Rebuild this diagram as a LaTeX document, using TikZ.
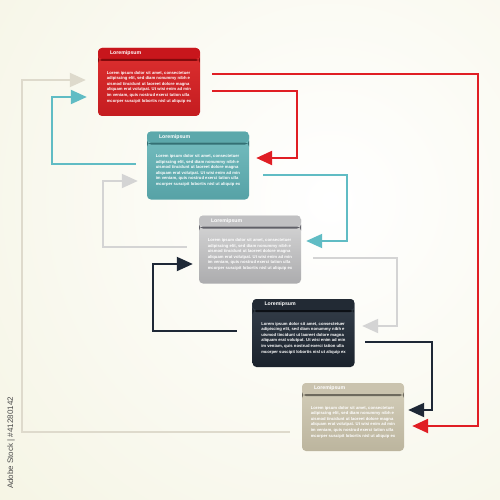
\documentclass[tikz,border=0pt]{standalone}
\usepackage{fontspec}
\setmainfont{Liberation Sans}
\usepackage{xcolor}
\usepackage{tikz}
\usetikzlibrary{arrows.meta, positioning, calc}
\definecolor{cream}{RGB}{240,239,214}
\definecolor{redtop}{RGB}{222,48,48}
\definecolor{redbot}{RGB}{196,28,32}
\definecolor{redhead}{RGB}{200,22,28}
\definecolor{redrule}{RGB}{130,10,12}
\definecolor{redlink}{RGB}{224,30,36}
\definecolor{tealtop}{RGB}{118,190,192}
\definecolor{tealbot}{RGB}{86,162,166}
\definecolor{tealhead}{RGB}{92,168,171}
\definecolor{tealrule}{RGB}{52,112,116}
\definecolor{teallink}{RGB}{96,188,196}
\definecolor{greytop}{RGB}{216,216,216}
\definecolor{greybot}{RGB}{172,172,174}
\definecolor{greyhead}{RGB}{192,192,194}
\definecolor{greyrule}{RGB}{96,96,104}
\definecolor{greylink}{RGB}{212,212,212}
\definecolor{navytop}{RGB}{54,64,76}
\definecolor{navybot}{RGB}{26,34,44}
\definecolor{navyhead}{RGB}{34,42,52}
\definecolor{navyrule}{RGB}{12,16,22}
\definecolor{navylink}{RGB}{30,40,54}
\definecolor{sandtop}{RGB}{212,206,186}
\definecolor{sandbot}{RGB}{188,181,158}
\definecolor{sandhead}{RGB}{202,195,174}
\definecolor{sandrule}{RGB}{110,106,94}
\definecolor{sandlink}{RGB}{222,218,204}
\newcommand{\loremtext}{Lorem ipsum dolor sit amet, consectetuer\\adipiscing elit, sed diam nonummy nibh e\\uismod tincidunt ut laoreet dolore magna\\aliquam erat volutpat. Ut wisi enim ad min\\im veniam, quis nostrud exerci tation ulla\\mcorper suscipit lobortis nisl ut aliquip ex}
\tikzset{
    card/.style n args={4}{rectangle, rounded corners=4pt, minimum width=102pt, minimum height=68pt, inner sep=0pt, top color=#1, bottom color=#2,
        path picture={
            \fill[#3] (path picture bounding box.north west) rectangle ([yshift=-11pt]path picture bounding box.north east);
            \fill[#4] ([yshift=-11pt]path picture bounding box.north west) rectangle ([yshift=-13pt]path picture bounding box.north east);
        }},
    cardtitle/.style={anchor=west, text=white, font=\fontsize{5.2}{6}\selectfont\bfseries, inner sep=0pt},
    cardtext/.style={anchor=north, text=white, align=left, font=\fontsize{4.2}{5.6}\selectfont\bfseries, inner sep=0pt},
    link/.style={line width=2pt, -{Triangle[length=16pt,width=14pt]}}
}
\begin{document}
\begin{tikzpicture}[x=1pt, y=1pt]
    % Background
    \useasboundingbox (0,0) rectangle (500,-500);
    \fill[cream] (0,0) rectangle (500,-500);
    \shade[inner color=white, outer color=cream] (330,-200) circle (700);

    % Cards
    \node[card={redtop}{redbot}{redhead}{redrule}] (red) at (149,-82) {};
    \node[card={tealtop}{tealbot}{tealhead}{tealrule}] (teal) at (198,-165.5) {};
    \node[card={greytop}{greybot}{greyhead}{greyrule}] (grey) at (250,-249.5) {};
    \node[card={navytop}{navybot}{navyhead}{navyrule}] (navy) at (303.5,-333) {};
    \node[card={sandtop}{sandbot}{sandhead}{sandrule}] (sand) at (353,-417) {};

    % Card texts
    \foreach \c in {red,teal,grey,navy,sand} {
        \node[cardtitle] (\c-title) at ([shift={(12,-5.5)}]\c.north west) {Loremipsum};
        \node[cardtext] (\c-text) at ([yshift=-23pt]\c.north) {\loremtext};
    }

    % Connections
    \draw[link, redlink, line width=2.4pt] ([shift={(12,8)}]red.east) -- ++(266,0) |- ([shift={(8,-9)}]sand.east);
    \draw[link, redlink, line width=2.4pt] ([shift={(12,-9)}]red.east) -- ++(85,0) |- ([shift={(7,7.5)}]teal.east);
    \draw[link, teallink] ([shift={(-11,1.5)}]teal.west) -- ++(-84,0) |- ([shift={(-11,-15)}]red.west);
    \draw[link, teallink] ([shift={(14,-9.5)}]teal.east) -- ++(84,0) |- ([shift={(5,8.5)}]grey.east);
    \draw[link, greylink] ([shift={(-12,2.5)}]grey.west) -- ++(-84,0) |- ([shift={(-9,-15.5)}]teal.west);
    \draw[link, greylink] ([shift={(12,-8.5)}]grey.east) -- ++(84,0) |- ([shift={(7.5,7)}]navy.east);
    \draw[link, navylink] ([shift={(-15.5,2)}]navy.west) -- ++(-84,0) |- ([shift={(-6,-14.5)}]grey.west);
    \draw[link, navylink] ([shift={(10.5,-9)}]navy.east) -- ++(67,0) |- ([shift={(4,7)}]sand.east);
    \draw[link, sandlink] ([shift={(-12,-15)}]sand.west) -- ++(-268,0) |- ([shift={(-12,2)}]red.west);

    % Side mark
    \node[rotate=90, font=\fontsize{8}{9}\selectfont, text=black!70, inner sep=0pt] (stock) at (11,-443) {Adobe Stock | \#41280142};
\end{tikzpicture}
\end{document}
